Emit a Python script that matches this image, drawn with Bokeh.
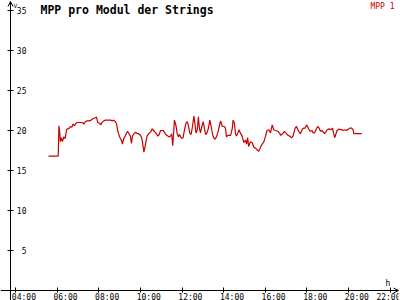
from bokeh.plotting import figure
from bokeh.models import (Range1d, LinearAxis, FixedTicker, Arrow, OpenHead, Label,
                          CustomLabelingPolicy)
from bokeh.embed import file_html
from bokeh.resources import INLINE

# ---- data ----
times = [
    "05:35", "06:03", "06:05", "06:07", "06:09", "06:12", "06:15", "06:19", "06:23", "06:27",
    "06:30", "06:35", "06:38", "06:42", "06:46", "06:50", "06:54", "06:58", "07:05", "07:13",
    "07:17", "07:21", "07:26", "07:32", "07:38", "07:44", "07:50", "07:53", "07:57", "08:03",
    "08:05", "08:11", "08:19", "08:34", "08:39", "08:43", "08:48", "08:51", "08:55", "08:59",
    "09:02", "09:06", "09:08", "09:12", "09:16", "09:20", "09:23", "09:27", "09:31", "09:34",
    "09:37", "09:41", "09:46", "09:51", "09:55", "10:00", "10:04", "10:07", "10:10", "10:12",
    "10:15", "10:19", "10:24", "10:29", "10:34", "10:38", "10:42", "10:46", "10:50", "10:54",
    "10:58", "11:05", "11:09", "11:13", "11:19", "11:23", "11:27", "11:30", "11:33", "11:36",
    "11:38", "11:42", "11:46", "11:50", "11:52", "11:55", "11:59", "12:03", "12:07", "12:11",
    "12:15", "12:18", "12:22", "12:26", "12:30", "12:34", "12:37", "12:40", "12:44", "12:47",
    "12:50", "12:53", "12:57", "13:01", "13:05", "13:08", "13:12", "13:16", "13:20", "13:24",
    "13:28", "13:31", "13:35", "13:39", "13:43", "13:47", "13:51", "13:56", "14:02", "14:05",
    "14:08", "14:12", "14:20", "14:25", "14:27", "14:31", "14:34", "14:37", "14:41", "14:44",
    "14:48", "14:53", "14:58", "15:03", "15:06", "15:09", "15:12", "15:17", "15:22", "15:27",
    "15:32", "15:36", "15:41", "15:46", "15:51", "15:56", "16:00", "16:05", "16:10", "16:15",
    "16:20", "16:24", "16:29", "16:36", "16:42", "16:44", "16:50", "16:55", "17:01", "17:05",
    "17:10", "17:16", "17:20", "17:26", "17:30", "17:34", "17:38", "17:41", "17:47", "17:51",
    "17:55", "17:59", "18:02", "18:06", "18:10", "18:15", "18:18", "18:22", "18:25", "18:31",
    "18:35", "18:39", "18:43", "18:47", "18:51", "18:54", "18:58", "19:04", "19:10", "19:14",
    "19:17", "19:20", "19:23", "19:27", "19:33", "19:37", "19:41", "19:45", "19:50", "19:54",
    "20:00", "20:04", "20:09", "20:13", "20:15", "20:38",
]
mpp_values = [
    16.8, 16.8, 20.6, 19.9, 18.6, 19.1, 18.6, 19.2, 19.0, 20.1,
    20.2, 20.3, 20.5, 20.4, 20.8, 20.6, 20.9, 21.0, 21.0, 21.0,
    20.8, 21.1, 21.2, 21.2, 21.3, 21.5, 21.6, 21.7, 21.0, 20.9,
    20.7, 21.1, 21.3, 21.3, 21.2, 21.3, 21.1, 20.8, 19.9, 19.3,
    19.0, 18.7, 18.3, 19.0, 19.3, 19.7, 19.9, 19.6, 19.3, 18.4,
    19.3, 19.6, 19.8, 19.6, 19.6, 19.4, 19.0, 18.2, 17.3, 17.7,
    18.4, 19.3, 19.6, 19.8, 20.2, 20.0, 19.8, 19.6, 19.3, 19.5,
    20.0, 20.0, 19.8, 19.5, 19.3, 19.2, 19.3, 19.6, 18.1, 19.9,
    21.3, 20.7, 19.6, 19.2, 19.5, 19.3, 19.0, 19.1, 20.1, 20.9,
    21.1, 20.7, 19.7, 19.5, 20.5, 21.8, 20.9, 19.7, 20.1, 21.7,
    20.3, 19.7, 20.5, 21.1, 20.1, 19.5, 19.7, 20.3, 21.3, 20.5,
    19.5, 19.1, 18.9, 19.2, 19.7, 20.5, 21.2, 20.5, 20.5, 20.3,
    19.2, 19.4, 19.4, 20.3, 21.3, 20.9, 19.6, 19.3, 19.7, 20.1,
    19.7, 19.3, 18.5, 18.8, 18.3, 19.1, 18.0, 18.6, 18.5, 17.9,
    17.8, 17.6, 17.4, 17.9, 18.3, 18.6, 19.2, 20.0, 20.1, 19.7,
    20.7, 20.1, 20.0, 19.9, 19.6, 19.4, 19.6, 19.9, 19.6, 19.4,
    19.3, 19.1, 19.3, 20.3, 20.5, 20.1, 19.8, 19.6, 20.2, 20.3,
    20.3, 20.7, 20.5, 20.1, 19.9, 20.0, 19.7, 19.7, 20.0, 20.5,
    20.3, 19.9, 20.0, 19.8, 19.6, 19.8, 20.1, 20.2, 20.1, 20.3,
    19.6, 19.1, 19.5, 20.0, 20.2, 20.1, 20.1, 20.0, 20.1, 20.0,
    20.2, 20.3, 20.3, 20.1, 19.6, 19.6,
]
hour_ticks = [4, 6, 8, 10, 12, 14, 16, 18, 20, 22]
hour_labels = ["04:00", "06:00", "08:00", "10:00", "12:00", "14:00",
               "16:00", "18:00", "20:00", "22:00"]
y_ticks = [5, 10, 15, 20, 25, 30, 35]
series_name = "MPP 1"
title_text = "MPP pro Modul der Strings"
y_unit = "V"
x_unit = "h"

# ---- styling ----
LINE_COLOR = "#c80000"
FONT = "DejaVu Sans Mono"
x_start, x_end = 3.275, 22.40      # visible time window (hours)
y_axis_at = 3.755                  # where the value axis crosses
y_start, y_end = -1.25, 36.125     # visible value window
label_shift = 0.40                 # hours: tick labels sit right of their ticks

hours = [int(t[:2]) + int(t[3:]) / 60.0 for t in times]

p = figure(width=400, height=300, output_backend="svg", toolbar_location=None,
           x_range=Range1d(x_start, x_end), y_range=Range1d(y_start, y_end),
           min_border_left=0, min_border_right=2, min_border_top=1,
           min_border_bottom=0, background_fill_color="white",
           border_fill_color="white")
p.outline_line_color = None
p.xgrid.grid_line_color = None
p.ygrid.grid_line_color = None

no_labels = CustomLabelingPolicy(code="return new Set()")

xa = p.xaxis[0]
xa.fixed_location = 0
xa.ticker = FixedTicker(ticks=hour_ticks)
xa.major_tick_in = 3
xa.major_tick_out = 2
xa.minor_tick_line_color = None
xa.major_label_policy = no_labels
xa.major_label_standoff = 0
xa.axis_line_color = "black"
xa.major_tick_line_color = "black"

p.extra_x_ranges = {"lbl": Range1d(x_start - label_shift, x_end - label_shift)}
lab = LinearAxis(x_range_name="lbl", ticker=FixedTicker(ticks=hour_ticks),
                 fixed_location=0,
                 major_label_overrides={h: s for h, s in zip(hour_ticks, hour_labels)},
                 axis_line_color=None, major_tick_line_color=None,
                 minor_tick_line_color=None, major_tick_in=0, major_tick_out=0,
                 major_label_standoff=2, major_label_text_font_size="8px",
                 major_label_text_font=FONT, major_label_text_color="black")
p.add_layout(lab, "below")

ya = p.yaxis[0]
ya.fixed_location = y_axis_at
ya.ticker = FixedTicker(ticks=y_ticks)
ya.major_tick_in = 3
ya.major_tick_out = 3
ya.minor_tick_line_color = None
ya.major_label_standoff = -19
ya.major_label_text_font_size = "8px"
ya.major_label_text_font = FONT
ya.major_label_text_color = "black"
ya.axis_line_color = "black"

p.line(hours, mpp_values, line_color=LINE_COLOR, line_width=1.2)

p.add_layout(Arrow(end=OpenHead(size=5, line_width=1, line_color="black"),
                   x_start=y_axis_at, y_start=y_end - 0.6, x_end=y_axis_at, y_end=y_end,
                   line_color="black", line_width=1))
p.add_layout(Arrow(end=OpenHead(size=5, line_width=1, line_color="black"),
                   x_start=x_end - 0.3, y_start=0, x_end=x_end, y_end=0,
                   line_color="black", line_width=1))

p.add_layout(Label(x=y_axis_at, y=y_end, x_offset=30, y_offset=-1.5, text=title_text,
                   text_font=FONT, text_font_style="bold", text_font_size="11.5px",
                   text_baseline="top", text_color="black"))
p.add_layout(Label(x=x_end, y=y_end, x_offset=-4, y_offset=0, text=series_name,
                   text_font=FONT, text_font_size="8px", text_align="right",
                   text_baseline="top", text_color=LINE_COLOR))
p.add_layout(Label(x=y_axis_at, y=y_end, x_offset=3, y_offset=0, text=y_unit,
                   text_font=FONT, text_font_size="6px", text_baseline="top",
                   text_color="black"))
p.add_layout(Label(x=x_end, y=0, x_offset=-13, y_offset=7, text=x_unit,
                   text_font=FONT, text_font_size="8px", text_baseline="alphabetic",
                   text_color="black"))

open("out.html", "w").write(file_html(p, INLINE))
